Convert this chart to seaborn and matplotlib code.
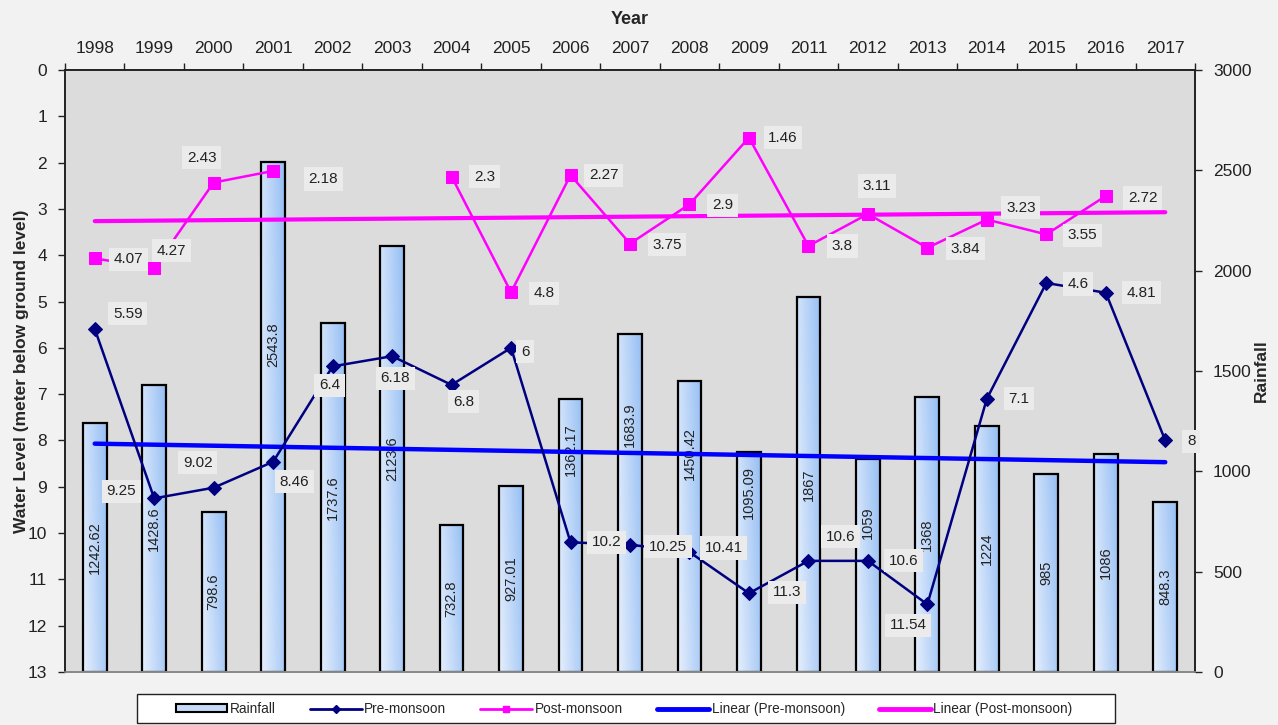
import numpy as np
import pandas as pd
import matplotlib
matplotlib.use('Agg')
import matplotlib.pyplot as plt
import seaborn as sns
from matplotlib.lines import Line2D
from matplotlib.patches import Patch, Rectangle
from matplotlib.colors import LinearSegmentedColormap

years = ['1998', '1999', '2000', '2001', '2002', '2003', '2004', '2005', '2006', '2007',
         '2008', '2009', '2011', '2012', '2013', '2014', '2015', '2016', '2017']
rainfall = [1242.62, 1428.6, 798.6, 2543.8, 1737.6, 2123.6, 732.8, 927.01, 1362.17, 1683.9,
            1450.42, 1095.09, 1867, 1059, 1368, 1224, 985, 1086, 848.3]
pre_monsoon = [5.59, 9.25, 9.02, 8.46, 6.4, 6.18, 6.8, 6, 10.2, 10.25,
               10.41, 11.3, 10.6, 10.6, 11.54, 7.1, 4.6, 4.81, 8]
post_monsoon = [4.07, 4.27, 2.43, 2.18, np.nan, np.nan, 2.3, 4.8, 2.27, 3.75,
                2.9, 1.46, 3.8, 3.11, 3.84, 3.23, 3.55, 2.72, np.nan]

# where the data labels sit relative to their point (pixels, dx, dy up)
pre_offsets = [(33, 15), (-33, 7), (-16, 25), (21, -20), (-3, -19), (3, -22), (12, -17), (14, -4),
               (36, 0), (38, -2), (34, 4), (38, 1), (32, 24), (36, 0), (-19, -21), (32, 0),
               (32, -1), (36, 0), (26, -1)]
post_offsets = [(34, -1), (17, 17), (-12, 25), (50, -8), None, None, (33, 0), (33, -1),
                (33, 0), (37, -1), (33, -1), (34, 0), (34, 0), (9, 28), (38, -1), (34, 12),
                (36, -1), (37, -2), None]
# bar labels sit mid-bar, except these which were moved up (rainfall units)
bar_label_moved = {3: 1630, 8: 1106, 9: 1231, 10: 1091, 11: 897, 13: 742}

sns.set_style('white')
plt.rcParams['font.family'] = ['Liberation Sans', 'DejaVu Sans']

pre_col = '#000080'
post_col = '#ff00ff'
trend_pre_col = '#0000ff'
ink = '#222222'

fig = plt.figure(figsize=(12.78, 7.25), dpi=100, facecolor='#f2f2f2')
ax = fig.add_axes([65 / 1278, 1 - 672 / 725, 1130 / 1278, 602 / 725])
ax2 = ax.twinx()

# rainfall bars (right axis)
sns.barplot(x=years, y=rainfall, ax=ax2, width=0.4, color='#c5dbf8', saturation=1,
            edgecolor='black', linewidth=1.6)
cmap = LinearSegmentedColormap.from_list('bar', ['#e6effc', '#96bff4'])
gx, gy = np.meshgrid(np.linspace(0, 1, 40), np.linspace(0, 1, 200))
grad = 0.75 * gx + 0.25 * gy
for p in list(ax2.patches):
    x0, w, h = p.get_x(), p.get_width(), p.get_height()
    im = ax2.imshow(grad, extent=[x0, x0 + w, 0, h], origin='lower', cmap=cmap,
                    vmin=0, vmax=1, aspect='auto', zorder=0.9)
    im.set_clip_path(p)
    p.set_facecolor('none')
    p.set_zorder(1)
for i, v in enumerate(rainfall):
    y = bar_label_moved.get(i, v / 2)
    ax2.text(i, y, f'{v:g}', rotation=90, ha='center', va='center', fontsize=10.5,
             color=ink, zorder=3)
ax2.set_xlim(-0.5, 18.5)
ax2.set_ylim(0, 3000)
ax2.set_yticks(range(0, 3001, 500))
ax2.set_ylabel('Rainfall', fontsize=12.5, fontweight='bold')
ax2.yaxis.set_label_coords(1.052, 0.5)
ax2.set_xlabel('')
ax2.tick_params(axis='y', labelsize=12.5, length=5, width=1, direction='out', pad=8, right=True,
                colors=ink)
ax2.tick_params(axis='x', bottom=False, labelbottom=False)
ax2.patch.set_visible(True)
ax2.set_facecolor('#dcdcdc')

# water level lines (left axis, inverted)
pos = np.arange(len(years))
df = pd.DataFrame({'pos': pos, 'pre': pre_monsoon, 'post': post_monsoon})
df['seg'] = np.cumsum(df['post'].isna())
post_df = df.dropna(subset=['post'])

ax.set_zorder(ax2.get_zorder() + 1)
ax.patch.set_visible(False)

for col, c, lw in [('pre', trend_pre_col, 3.2), ('post', post_col, 3.0)]:
    ok = df[col].notna()
    k, b = np.polyfit(df.loc[ok, 'pos'], df.loc[ok, col], 1)
    ax.plot([0, 18], [b, 18 * k + b], color=c, lw=lw, solid_capstyle='round', zorder=2)

sns.lineplot(data=df, x='pos', y='pre', ax=ax, color=pre_col, lw=1.8, marker='D',
             markersize=7, markeredgecolor=pre_col, legend=False, zorder=3)
sns.lineplot(data=post_df, x='pos', y='post', units='seg', estimator=None, ax=ax,
             color=post_col, lw=1.8, marker='s', markersize=9, markeredgecolor=post_col,
             legend=False, zorder=3)

lbl_box = dict(boxstyle='square,pad=0.3', fc='#ebebeb', ec='none')
for vals, offs in [(pre_monsoon, pre_offsets), (post_monsoon, post_offsets)]:
    for i, (v, o) in enumerate(zip(vals, offs)):
        if o is None or np.isnan(v):
            continue
        ax.annotate(f'{v:g}', (i, v), xytext=o, textcoords='offset pixels', ha='center',
                    va='center', fontsize=11, color=ink, bbox=lbl_box, zorder=5)

ax.set_xlim(-0.5, 18.5)
ax.set_ylim(13, 0)
ax.set_yticks(range(14))
ax.set_ylabel('Water Level (meter below ground level)', fontsize=12.5, fontweight='bold')
ax.yaxis.set_label_coords(-0.032, 0.5)
ax.xaxis.tick_top()
ax.xaxis.set_label_position('top')
ax.set_xticks(pos)
ax.set_xticklabels(years)
ax.set_xticks(np.arange(-0.5, 19, 1), minor=True)
ax.set_xlabel('Year', fontsize=13, fontweight='bold', labelpad=12)
ax.tick_params(axis='x', which='major', length=0, pad=10, labelsize=12.5, colors=ink)
ax.tick_params(axis='x', which='minor', length=5, width=1, direction='out', top=True,
               bottom=False, color=ink)
ax.tick_params(axis='y', labelsize=12.5, length=5, width=1, direction='out', pad=8, left=True,
               colors=ink)

for a in (ax, ax2):
    for s in a.spines.values():
        s.set_color(ink)
        s.set_linewidth(1.2)
    a.spines['bottom'].set_color('#888888')

# legend box below the plot
fig.patches.append(Rectangle((137 / 1278, 1 - 723 / 725), 978 / 1278, 29 / 725,
                             transform=fig.transFigure, facecolor='white', edgecolor=ink,
                             linewidth=1, zorder=0))
handles = [
    Patch(facecolor='#c5dbf8', edgecolor='black', linewidth=1.5),
    Line2D([], [], color=pre_col, lw=2, marker='D', markersize=4),
    Line2D([], [], color=post_col, lw=2, marker='s', markersize=5),
    Line2D([], [], color=trend_pre_col, lw=3.5),
    Line2D([], [], color=post_col, lw=3.5),
]
labels = ['Rainfall', 'Pre-monsoon', 'Post-monsoon', 'Linear (Pre-monsoon)',
          'Linear (Post-monsoon)']
fig.legend(handles, labels, loc='center', ncol=5, fontsize=9.8, handlelength=3.8,
           handleheight=0.5, columnspacing=2.5, handletextpad=0.2,
           bbox_to_anchor=(624 / 1278, 1 - 709 / 725), frameon=False)

fig.savefig('out.png', dpi=100, facecolor=fig.get_facecolor())
